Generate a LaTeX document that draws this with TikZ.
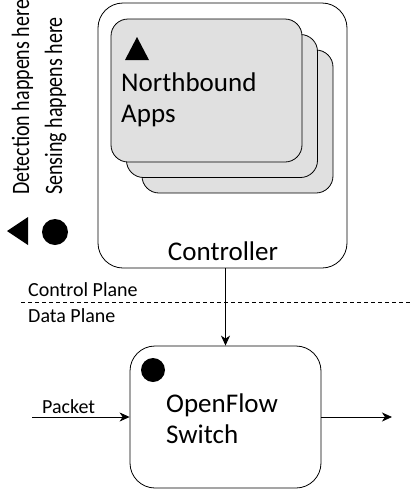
\documentclass[tikz,border=0pt]{standalone}
\usepackage{fontspec}
\setmainfont{Carlito}
\usetikzlibrary{arrows.meta,positioning}
\definecolor{AppGray}{HTML}{E0E0E0}

\begin{document}
\begin{tikzpicture}[
    x=1pt,y=-1pt,
    ctrlbox/.style={draw,thick,rounded corners=25pt,minimum width=249pt,minimum height=265pt},
    appbox/.style={draw,thick,rounded corners=17pt,fill=AppGray,minimum width=191pt,minimum height=143pt},
    swbox/.style={draw,thick,rounded corners=25pt,minimum width=191pt,minimum height=142pt},
    bigtxt/.style={font=\fontsize{27}{31.5}\selectfont,inner sep=0pt,align=left},
    smalltxt/.style={font=\fontsize{20}{24}\selectfont,inner sep=0pt},
    legtxt/.style={smalltxt,rotate=90,yscale=1.25,anchor=base west},
    dot/.style={circle,fill,inner sep=0pt},
    arr/.style={-{Stealth[length=10pt,width=9pt,inset=3pt]},thick}
  ]
    \useasboundingbox (0,0) rectangle (410,491);

    % controller with its stack of apps
    \node[ctrlbox] (ctrl) at (222.5,135.5) {};
    \node[appbox] (app3) at (237.5,121.5) {};
    \node[appbox] (app2) at (222,106) {};
    \node[appbox] (app1) at (206.5,90.5) {};
    \fill (125,60) -- (137,37) -- (149,60) -- cycle;
    \node[bigtxt,anchor=north west] (apps) at (121,72.5) {Northbound\\Apps};
    \node[bigtxt,anchor=base] (ctrllbl) at (223,260) {Controller};

    % legend
    \fill (7,231) -- (28,217) -- (28,245) -- cycle;
    \node[dot,minimum size=26pt] (sensedot) at (55,232) {};
    \node[legtxt] (detect) at (29,195) {Detection happens here};
    \node[legtxt] (sense) at (62,195) {Sensing happens here};

    % planes
    \coordinate (planeL) at (21,302);
    \coordinate (planeR) at (410,302);
    \draw[dash pattern=on 4pt off 3pt] (planeL) -- (planeR);
    \node[smalltxt,anchor=base west] (cplane) at (28,296) {Control Plane};
    \node[smalltxt,anchor=base west] (dplane) at (28,322) {Data Plane};

    % switch
    \node[swbox] (switch) at (225.5,417) {};
    \node[dot,minimum size=24pt] (swdot) at (153,370) {};
    \node[bigtxt,anchor=north west] (swlbl) at (166,393.5) {OpenFlow\\Switch};

    \coordinate (pktin) at (32,417);
    \coordinate (pktout) at (392,417);
    \node[smalltxt,anchor=base west] (pkt) at (42,413) {Packet};
    \draw[arr] (switch.north |- ctrl.south) -- (switch.north);
    \draw[arr] (pktin) -- (switch.west);
    \draw[arr] (switch.east) -- (pktout);
\end{tikzpicture}
\end{document}
